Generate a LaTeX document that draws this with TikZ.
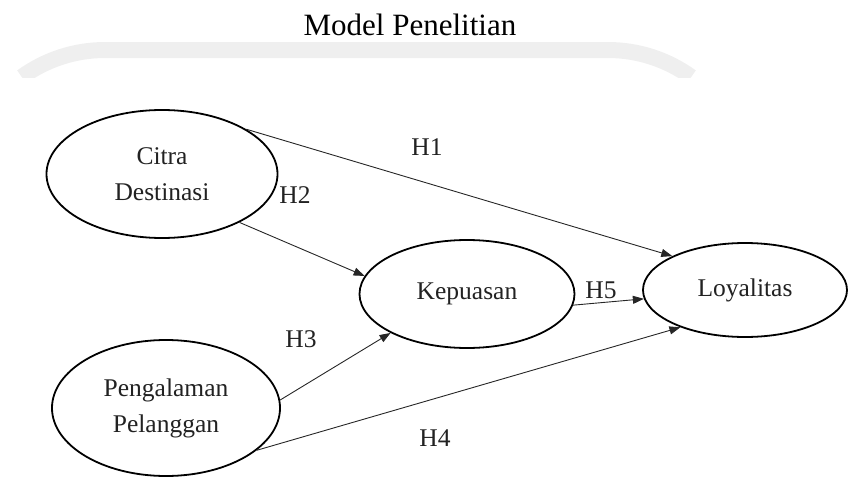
\documentclass[tikz,border=0pt]{standalone}
\usepackage{fontspec}
\setmainfont{Liberation Serif}
\usetikzlibrary{shapes.geometric,arrows.meta}
\definecolor{bandgray}{HTML}{EFEFEF}
\definecolor{ink}{HTML}{222222}
\tikzset{
  construct/.style={ellipse, draw=black, line width=1.8pt, inner sep=0pt, align=center,
    text=ink, font=\fontsize{25.5}{36}\selectfont},
  path/.style={draw=black!85, line width=0.9pt, -{Triangle[length=11pt,width=8pt]}},
  hyp/.style={text=ink, font=\fontsize{25.5}{28}\selectfont, inner sep=0pt},
}
\begin{document}
\begin{tikzpicture}[x=1pt,y=-1pt]
\useasboundingbox (0,0) rectangle (849,479);
% faint background band
\begin{scope}
\clip (0,0) rectangle (849,77);
\draw[bandgray, line width=16pt] (105,192) ++(234.1:142) arc[start angle=234.1, end angle=270, radius=142]
  -- (608,50) arc[start angle=270, end angle=305.9, radius=142];
\end{scope}
\node[text=black, font=\fontsize{31}{36}\selectfont, inner sep=0pt] (title) at (410,25) {Model Penelitian};
% constructs
\node[construct, minimum width=231pt, minimum height=128pt] (cd) at (162,174) {Citra\\Destinasi};
\node[construct, minimum width=215pt, minimum height=108pt] (kp) at (467,294) {Kepuasan};
\node[construct, minimum width=204pt, minimum height=94pt] (ly) at (745,290) {Loyalitas};
\node[construct, minimum width=228pt, minimum height=136pt] (pp) at (166,408) {Pengalaman\\Pelanggan};
% paths
\draw[path] (cd.28) -- (ly.155);
\draw[path] (cd.-32) -- (kp.170);
\draw[path] (pp.4) -- (kp.207);
\draw[path] (pp.-25) -- (ly.210);
\draw[path] (kp.-6) -- (ly.185);
% labels
\node[hyp] (h1) at (427,147) {H1};
\node[hyp] (h2) at (295,195) {H2};
\node[hyp] (h3) at (301,339) {H3};
\node[hyp] (h4) at (435,438) {H4};
\node[hyp] (h5) at (601,290) {H5};
\end{tikzpicture}
\end{document}
